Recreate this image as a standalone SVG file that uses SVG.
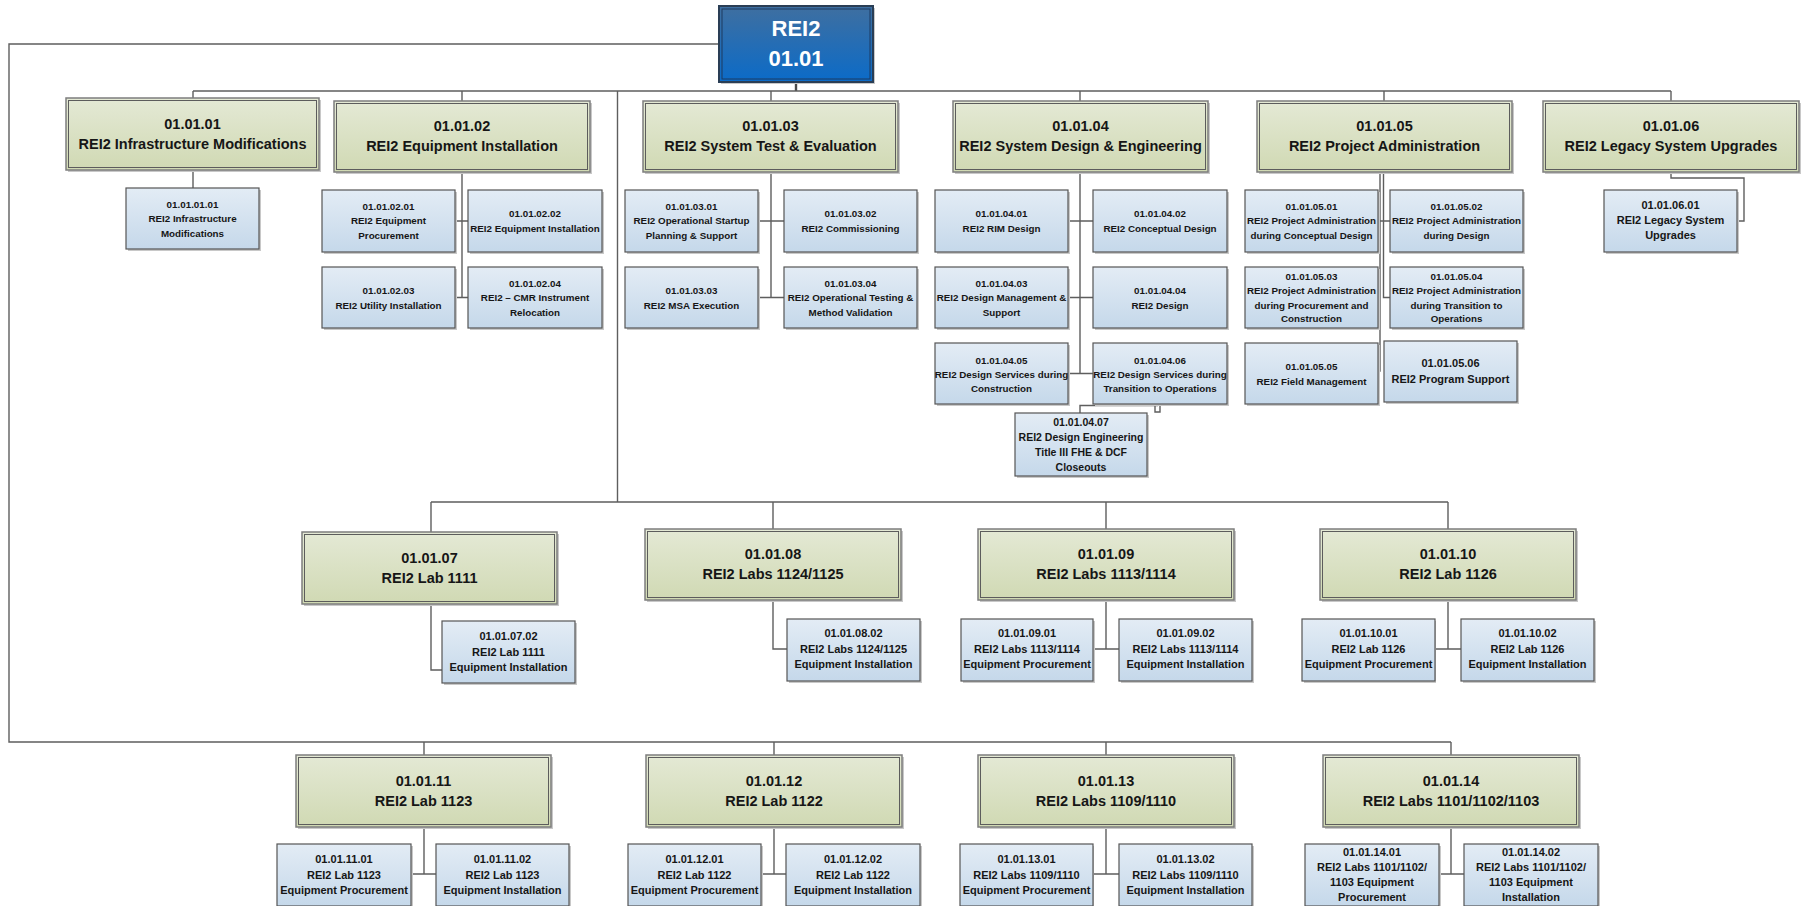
<svg xmlns="http://www.w3.org/2000/svg" width="1802" height="906" viewBox="0 0 1802 906">
<defs>
  <linearGradient id="gRoot" x1="0" y1="0" x2="0" y2="1">
    <stop offset="0" stop-color="#3f6fa0"/>
    <stop offset="1" stop-color="#0b6bc8"/>
  </linearGradient>
  <linearGradient id="gL1" x1="0" y1="0" x2="0" y2="1">
    <stop offset="0" stop-color="#e4e9d5"/>
    <stop offset="1" stop-color="#d0d9b3"/>
  </linearGradient>
  <linearGradient id="gL2" x1="0" y1="0" x2="0" y2="1">
    <stop offset="0" stop-color="#e3ecf5"/>
    <stop offset="1" stop-color="#c5d8ea"/>
  </linearGradient>
</defs>
<style>
  text { font-family: "Liberation Sans", Arial, sans-serif; font-weight: bold; text-anchor: middle; fill: #161616; }
  .sh { fill: #c8c8c8; }
  .root { fill: url(#gRoot); stroke: #2a3e55; stroke-width: 2; }
  .rooti { fill: none; stroke: #1c3a60; stroke-width: 1; }
  .troot { font-size: 22px; fill: #ffffff; }
  .l1 { fill: url(#gL1); stroke: #7d7d7d; stroke-width: 1.5; }
  .l1i { fill: none; stroke: #5c5c5c; stroke-width: 1; }
  .t1 { font-size: 14.5px; }
  .l2 { fill: url(#gL2); stroke: #555555; stroke-width: 1.2; }
  .t2 { font-size: 9.8px; }
  .t3 { font-size: 11px; }
  .t4 { font-size: 10.5px; }
  .wire { fill: none; stroke: #5e5e5e; stroke-width: 1.4; }
  .wire2 { fill: none; stroke: #4a4a4a; stroke-width: 2.4; }
</style>
<rect width="1802" height="906" fill="#ffffff"/>

<!-- connectors -->
<g id="connectors">
  <path class="wire" d="M719 44 H9 V742 H1451"/>
  <path class="wire2" d="M796 82 V91"/>
  <path class="wire" d="M193 91 H1671"/>
  <path class="wire" d="M193 91 V98 M462 91 V101 M771 91 V101 M1080 91 V101 M1384 91 V101 M1671 91 V101"/>
  <path class="wire" d="M617.5 91 V502"/>
  <path class="wire" d="M431 502 H1448 M431 502 V532 M773 502 V529 M1106 502 V529 M1448 502 V529"/>
  <path class="wire" d="M424 742 V755 M774 742 V755 M1106 742 V755 M1451 742 V755"/>
  <!-- level 1 row 1 children -->
  <path class="wire" d="M193 170 V188"/>
  <path class="wire" d="M462 172 V297.5 M455 221 H468 M455 297.5 H468"/>
  <path class="wire" d="M771 172 V297.5 M758 221 H784 M758 297.5 H784"/>
  <path class="wire" d="M1080 172 V373.5 M1068 221 H1093 M1068 297.5 H1093 M1068 373.5 H1093"/>
  <path class="wire" d="M1080 413 V405.5 H1158 M1155 404 V412 H1160 V404"/>
  <path class="wire" d="M1380 172 V371 H1378 M1383.5 172 V297.5 H1390 M1378 221 H1390"/>
  <path class="wire" d="M1671 172 V178 H1744 V221 H1737"/>
  <!-- level 1 row 2 children -->
  <path class="wire" d="M431 604 V670 H442"/>
  <path class="wire" d="M773 600 V649 H787"/>
  <path class="wire" d="M1106 600 V649 M1093 649 H1119"/>
  <path class="wire" d="M1448 600 V649 M1435 649 H1461"/>
  <!-- level 1 row 3 children -->
  <path class="wire" d="M424 827 V874 M411 874 H436"/>
  <path class="wire" d="M774 827 V874 M761 874 H786"/>
  <path class="wire" d="M1106 827 V874 M1093 874 H1119"/>
  <path class="wire" d="M1451 827 V874 M1439 874 H1464"/>
</g>

<!-- root -->
<g id="n0101">
  <rect class="sh" x="721" y="8" width="154" height="76"/>
  <rect class="root" x="719" y="6" width="154" height="76"/>
  <rect class="rooti" x="722" y="9" width="148" height="70"/>
  <text class="troot" x="796" y="36">REI2</text>
  <text class="troot" x="796" y="66">01.01</text>
</g>

<!-- level 1, first row -->
<g id="n010101">
  <rect class="sh" x="68" y="100" width="253" height="72"/>
  <rect class="l1" x="66" y="98" width="253" height="72"/>
  <rect class="l1i" x="68.5" y="100.5" width="248" height="67"/>
  <text class="t1"><tspan x="192.5" y="128.5">01.01.01</tspan><tspan x="192.5" y="148.5">REI2 Infrastructure Modifications</tspan></text>
</g>
<g id="n010102">
  <rect class="sh" x="336" y="103" width="256" height="71"/>
  <rect class="l1" x="334" y="101" width="256" height="71"/>
  <rect class="l1i" x="336.5" y="103.5" width="251" height="66"/>
  <text class="t1"><tspan x="462" y="131">01.01.02</tspan><tspan x="462" y="151">REI2 Equipment Installation</tspan></text>
</g>
<g id="n010103">
  <rect class="sh" x="645" y="103" width="255" height="71"/>
  <rect class="l1" x="643" y="101" width="255" height="71"/>
  <rect class="l1i" x="645.5" y="103.5" width="250" height="66"/>
  <text class="t1"><tspan x="770.5" y="131">01.01.03</tspan><tspan x="770.5" y="151">REI2 System Test &amp; Evaluation</tspan></text>
</g>
<g id="n010104">
  <rect class="sh" x="955" y="103" width="255" height="71"/>
  <rect class="l1" x="953" y="101" width="255" height="71"/>
  <rect class="l1i" x="955.5" y="103.5" width="250" height="66"/>
  <text class="t1"><tspan x="1080.5" y="131">01.01.04</tspan><tspan x="1080.5" y="151">REI2 System Design &amp; Engineering</tspan></text>
</g>
<g id="n010105">
  <rect class="sh" x="1259" y="103" width="255" height="71"/>
  <rect class="l1" x="1257" y="101" width="255" height="71"/>
  <rect class="l1i" x="1259.5" y="103.5" width="250" height="66"/>
  <text class="t1"><tspan x="1384.5" y="131">01.01.05</tspan><tspan x="1384.5" y="151">REI2 Project Administration</tspan></text>
</g>
<g id="n010106">
  <rect class="sh" x="1545" y="103" width="256" height="71"/>
  <rect class="l1" x="1543" y="101" width="256" height="71"/>
  <rect class="l1i" x="1545.5" y="103.5" width="251" height="66"/>
  <text class="t1"><tspan x="1671" y="131">01.01.06</tspan><tspan x="1671" y="151">REI2 Legacy System Upgrades</tspan></text>
</g>

<!-- children of first row -->
<g id="n01010101">
  <rect class="sh" x="128" y="190" width="133" height="61"/>
  <rect class="l2" x="126" y="188" width="133" height="61"/>
  <text class="t2"><tspan x="192.5" y="207.5">01.01.01.01</tspan><tspan x="192.5" y="222">REI2 Infrastructure</tspan><tspan x="192.5" y="236.5">Modifications</tspan></text>
</g>
<g id="n01010201">
  <rect class="sh" x="324" y="192" width="133" height="62"/>
  <rect class="l2" x="322" y="190" width="133" height="62"/>
  <text class="t2"><tspan x="388.5" y="209.5">01.01.02.01</tspan><tspan x="388.5" y="224">REI2 Equipment</tspan><tspan x="388.5" y="238.5">Procurement</tspan></text>
</g>
<g id="n01010202">
  <rect class="sh" x="470" y="192" width="134" height="62"/>
  <rect class="l2" x="468" y="190" width="134" height="62"/>
  <text class="t2"><tspan x="535" y="216.5">01.01.02.02</tspan><tspan x="535" y="231.5">REI2 Equipment Installation</tspan></text>
</g>
<g id="n01010203">
  <rect class="sh" x="324" y="269" width="133" height="61"/>
  <rect class="l2" x="322" y="267" width="133" height="61"/>
  <text class="t2"><tspan x="388.5" y="293.5">01.01.02.03</tspan><tspan x="388.5" y="308.5">REI2 Utility Installation</tspan></text>
</g>
<g id="n01010204">
  <rect class="sh" x="470" y="269" width="134" height="61"/>
  <rect class="l2" x="468" y="267" width="134" height="61"/>
  <text class="t2"><tspan x="535" y="286.5">01.01.02.04</tspan><tspan x="535" y="301">REI2 – CMR Instrument</tspan><tspan x="535" y="315.5">Relocation</tspan></text>
</g>
<g id="n01010301">
  <rect class="sh" x="627" y="192" width="133" height="62"/>
  <rect class="l2" x="625" y="190" width="133" height="62"/>
  <text class="t2"><tspan x="691.5" y="209.5">01.01.03.01</tspan><tspan x="691.5" y="224">REI2 Operational Startup</tspan><tspan x="691.5" y="238.5">Planning &amp; Support</tspan></text>
</g>
<g id="n01010302">
  <rect class="sh" x="786" y="192" width="133" height="62"/>
  <rect class="l2" x="784" y="190" width="133" height="62"/>
  <text class="t2"><tspan x="850.5" y="216.5">01.01.03.02</tspan><tspan x="850.5" y="231.5">REI2 Commissioning</tspan></text>
</g>
<g id="n01010303">
  <rect class="sh" x="627" y="269" width="133" height="61"/>
  <rect class="l2" x="625" y="267" width="133" height="61"/>
  <text class="t2"><tspan x="691.5" y="293.5">01.01.03.03</tspan><tspan x="691.5" y="308.5">REI2 MSA Execution</tspan></text>
</g>
<g id="n01010304">
  <rect class="sh" x="786" y="269" width="133" height="61"/>
  <rect class="l2" x="784" y="267" width="133" height="61"/>
  <text class="t2"><tspan x="850.5" y="286.5">01.01.03.04</tspan><tspan x="850.5" y="301">REI2 Operational Testing &amp;</tspan><tspan x="850.5" y="315.5">Method Validation</tspan></text>
</g>
<g id="n01010401">
  <rect class="sh" x="937" y="192" width="133" height="62"/>
  <rect class="l2" x="935" y="190" width="133" height="62"/>
  <text class="t2"><tspan x="1001.5" y="216.5">01.01.04.01</tspan><tspan x="1001.5" y="231.5">REI2 RIM Design</tspan></text>
</g>
<g id="n01010402">
  <rect class="sh" x="1095" y="192" width="134" height="62"/>
  <rect class="l2" x="1093" y="190" width="134" height="62"/>
  <text class="t2"><tspan x="1160" y="216.5">01.01.04.02</tspan><tspan x="1160" y="231.5">REI2 Conceptual Design</tspan></text>
</g>
<g id="n01010403">
  <rect class="sh" x="937" y="269" width="133" height="61"/>
  <rect class="l2" x="935" y="267" width="133" height="61"/>
  <text class="t2"><tspan x="1001.5" y="286.5">01.01.04.03</tspan><tspan x="1001.5" y="301">REI2 Design Management &amp;</tspan><tspan x="1001.5" y="315.5">Support</tspan></text>
</g>
<g id="n01010404">
  <rect class="sh" x="1095" y="269" width="134" height="61"/>
  <rect class="l2" x="1093" y="267" width="134" height="61"/>
  <text class="t2"><tspan x="1160" y="293.5">01.01.04.04</tspan><tspan x="1160" y="308.5">REI2 Design</tspan></text>
</g>
<g id="n01010405">
  <rect class="sh" x="937" y="345" width="133" height="61"/>
  <rect class="l2" x="935" y="343" width="133" height="61"/>
  <text class="t2"><tspan x="1001.5" y="363.5">01.01.04.05</tspan><tspan x="1001.5" y="378">REI2 Design Services during</tspan><tspan x="1001.5" y="392">Construction</tspan></text>
</g>
<g id="n01010406">
  <rect class="sh" x="1095" y="345" width="134" height="61"/>
  <rect class="l2" x="1093" y="343" width="134" height="61"/>
  <text class="t2"><tspan x="1160" y="363.5">01.01.04.06</tspan><tspan x="1160" y="378">REI2 Design Services during</tspan><tspan x="1160" y="392">Transition to Operations</tspan></text>
</g>
<g id="n01010407">
  <rect class="sh" x="1017" y="415" width="132" height="63"/>
  <rect class="l2" x="1015" y="413" width="132" height="63"/>
  <text class="t4"><tspan x="1081" y="426">01.01.04.07</tspan><tspan x="1081" y="441">REI2 Design Engineering</tspan><tspan x="1081" y="456">Title III FHE &amp; DCF</tspan><tspan x="1081" y="471">Closeouts</tspan></text>
</g>
<g id="n01010501">
  <rect class="sh" x="1247" y="192" width="133" height="62"/>
  <rect class="l2" x="1245" y="190" width="133" height="62"/>
  <text class="t2"><tspan x="1311.5" y="209.5">01.01.05.01</tspan><tspan x="1311.5" y="224">REI2 Project Administration</tspan><tspan x="1311.5" y="238.5">during Conceptual Design</tspan></text>
</g>
<g id="n01010502">
  <rect class="sh" x="1392" y="192" width="133" height="62"/>
  <rect class="l2" x="1390" y="190" width="133" height="62"/>
  <text class="t2"><tspan x="1456.5" y="209.5">01.01.05.02</tspan><tspan x="1456.5" y="224">REI2 Project Administration</tspan><tspan x="1456.5" y="238.5">during Design</tspan></text>
</g>
<g id="n01010503">
  <rect class="sh" x="1247" y="269" width="133" height="61"/>
  <rect class="l2" x="1245" y="267" width="133" height="61"/>
  <text class="t2"><tspan x="1311.5" y="279.5">01.01.05.03</tspan><tspan x="1311.5" y="294">REI2 Project Administration</tspan><tspan x="1311.5" y="308.5">during Procurement and</tspan><tspan x="1311.5" y="322">Construction</tspan></text>
</g>
<g id="n01010504">
  <rect class="sh" x="1392" y="269" width="133" height="61"/>
  <rect class="l2" x="1390" y="267" width="133" height="61"/>
  <text class="t2"><tspan x="1456.5" y="279.5">01.01.05.04</tspan><tspan x="1456.5" y="294">REI2 Project Administration</tspan><tspan x="1456.5" y="308.5">during Transition to</tspan><tspan x="1456.5" y="322">Operations</tspan></text>
</g>
<g id="n01010505">
  <rect class="sh" x="1247" y="345" width="133" height="61"/>
  <rect class="l2" x="1245" y="343" width="133" height="61"/>
  <text class="t2"><tspan x="1311.5" y="370">01.01.05.05</tspan><tspan x="1311.5" y="385">REI2 Field Management</tspan></text>
</g>
<g id="n01010506">
  <rect class="sh" x="1386" y="343" width="133" height="61"/>
  <rect class="l2" x="1384" y="341" width="133" height="61"/>
  <text class="t3"><tspan x="1450.5" y="367">01.01.05.06</tspan><tspan x="1450.5" y="383">REI2 Program Support</tspan></text>
</g>
<g id="n01010601">
  <rect class="sh" x="1606" y="192" width="133" height="62"/>
  <rect class="l2" x="1604" y="190" width="133" height="62"/>
  <text class="t3"><tspan x="1670.5" y="209">01.01.06.01</tspan><tspan x="1670.5" y="224">REI2 Legacy System</tspan><tspan x="1670.5" y="239">Upgrades</tspan></text>
</g>

<!-- level 1, second row -->
<g id="n010107">
  <rect class="sh" x="304" y="534" width="255" height="72"/>
  <rect class="l1" x="302" y="532" width="255" height="72"/>
  <rect class="l1i" x="304.5" y="534.5" width="250" height="67"/>
  <text class="t1"><tspan x="429.5" y="562.5">01.01.07</tspan><tspan x="429.5" y="582.5">REI2 Lab 1111</tspan></text>
</g>
<g id="n010108">
  <rect class="sh" x="647" y="531" width="256" height="71"/>
  <rect class="l1" x="645" y="529" width="256" height="71"/>
  <rect class="l1i" x="647.5" y="531.5" width="251" height="66"/>
  <text class="t1"><tspan x="773" y="559">01.01.08</tspan><tspan x="773" y="579">REI2 Labs 1124/1125</tspan></text>
</g>
<g id="n010109">
  <rect class="sh" x="980" y="531" width="256" height="71"/>
  <rect class="l1" x="978" y="529" width="256" height="71"/>
  <rect class="l1i" x="980.5" y="531.5" width="251" height="66"/>
  <text class="t1"><tspan x="1106" y="559">01.01.09</tspan><tspan x="1106" y="579">REI2 Labs 1113/1114</tspan></text>
</g>
<g id="n010110">
  <rect class="sh" x="1322" y="531" width="256" height="71"/>
  <rect class="l1" x="1320" y="529" width="256" height="71"/>
  <rect class="l1i" x="1322.5" y="531.5" width="251" height="66"/>
  <text class="t1"><tspan x="1448" y="559">01.01.10</tspan><tspan x="1448" y="579">REI2 Lab 1126</tspan></text>
</g>

<!-- children of second row -->
<g id="n01010702">
  <rect class="sh" x="444" y="623" width="133" height="62"/>
  <rect class="l2" x="442" y="621" width="133" height="62"/>
  <text class="t3"><tspan x="508.5" y="640">01.01.07.02</tspan><tspan x="508.5" y="655.5">REI2 Lab 1111</tspan><tspan x="508.5" y="671">Equipment Installation</tspan></text>
</g>
<g id="n01010802">
  <rect class="sh" x="789" y="621" width="133" height="62"/>
  <rect class="l2" x="787" y="619" width="133" height="62"/>
  <text class="t3"><tspan x="853.5" y="637">01.01.08.02</tspan><tspan x="853.5" y="652.5">REI2 Labs 1124/1125</tspan><tspan x="853.5" y="668">Equipment Installation</tspan></text>
</g>
<g id="n01010901">
  <rect class="sh" x="963" y="621" width="132" height="62"/>
  <rect class="l2" x="961" y="619" width="132" height="62"/>
  <text class="t3"><tspan x="1027" y="637">01.01.09.01</tspan><tspan x="1027" y="652.5">REI2 Labs 1113/1114</tspan><tspan x="1027" y="668">Equipment Procurement</tspan></text>
</g>
<g id="n01010902">
  <rect class="sh" x="1121" y="621" width="133" height="62"/>
  <rect class="l2" x="1119" y="619" width="133" height="62"/>
  <text class="t3"><tspan x="1185.5" y="637">01.01.09.02</tspan><tspan x="1185.5" y="652.5">REI2 Labs 1113/1114</tspan><tspan x="1185.5" y="668">Equipment Installation</tspan></text>
</g>
<g id="n01011001">
  <rect class="sh" x="1304" y="621" width="132" height="62"/>
  <rect class="l2" x="1302" y="619" width="133" height="62"/>
  <text class="t3"><tspan x="1368.5" y="637">01.01.10.01</tspan><tspan x="1368.5" y="652.5">REI2 Lab 1126</tspan><tspan x="1368.5" y="668">Equipment Procurement</tspan></text>
</g>
<g id="n01011002">
  <rect class="sh" x="1463" y="621" width="133" height="62"/>
  <rect class="l2" x="1461" y="619" width="133" height="62"/>
  <text class="t3"><tspan x="1527.5" y="637">01.01.10.02</tspan><tspan x="1527.5" y="652.5">REI2 Lab 1126</tspan><tspan x="1527.5" y="668">Equipment Installation</tspan></text>
</g>

<!-- level 1, third row -->
<g id="n010111">
  <rect class="sh" x="298" y="757" width="255" height="72"/>
  <rect class="l1" x="296" y="755" width="255" height="72"/>
  <rect class="l1i" x="298.5" y="757.5" width="250" height="67"/>
  <text class="t1"><tspan x="423.5" y="785.5">01.01.11</tspan><tspan x="423.5" y="805.5">REI2 Lab 1123</tspan></text>
</g>
<g id="n010112">
  <rect class="sh" x="648" y="757" width="256" height="72"/>
  <rect class="l1" x="646" y="755" width="256" height="72"/>
  <rect class="l1i" x="648.5" y="757.5" width="251" height="67"/>
  <text class="t1"><tspan x="774" y="785.5">01.01.12</tspan><tspan x="774" y="805.5">REI2 Lab 1122</tspan></text>
</g>
<g id="n010113">
  <rect class="sh" x="980" y="757" width="256" height="72"/>
  <rect class="l1" x="978" y="755" width="256" height="72"/>
  <rect class="l1i" x="980.5" y="757.5" width="251" height="67"/>
  <text class="t1"><tspan x="1106" y="785.5">01.01.13</tspan><tspan x="1106" y="805.5">REI2 Labs 1109/1110</tspan></text>
</g>
<g id="n010114">
  <rect class="sh" x="1325" y="757" width="256" height="72"/>
  <rect class="l1" x="1323" y="755" width="256" height="72"/>
  <rect class="l1i" x="1325.5" y="757.5" width="251" height="67"/>
  <text class="t1"><tspan x="1451" y="785.5">01.01.14</tspan><tspan x="1451" y="805.5">REI2 Labs 1101/1102/1103</tspan></text>
</g>

<!-- children of third row -->
<g id="n01011101">
  <rect class="sh" x="279" y="846" width="134" height="62"/>
  <rect class="l2" x="277" y="844" width="134" height="62"/>
  <text class="t3"><tspan x="344" y="863">01.01.11.01</tspan><tspan x="344" y="878.5">REI2 Lab 1123</tspan><tspan x="344" y="894">Equipment Procurement</tspan></text>
</g>
<g id="n01011102">
  <rect class="sh" x="438" y="846" width="133" height="62"/>
  <rect class="l2" x="436" y="844" width="133" height="62"/>
  <text class="t3"><tspan x="502.5" y="863">01.01.11.02</tspan><tspan x="502.5" y="878.5">REI2 Lab 1123</tspan><tspan x="502.5" y="894">Equipment Installation</tspan></text>
</g>
<g id="n01011201">
  <rect class="sh" x="630" y="846" width="133" height="62"/>
  <rect class="l2" x="628" y="844" width="133" height="62"/>
  <text class="t3"><tspan x="694.5" y="863">01.01.12.01</tspan><tspan x="694.5" y="878.5">REI2 Lab 1122</tspan><tspan x="694.5" y="894">Equipment Procurement</tspan></text>
</g>
<g id="n01011202">
  <rect class="sh" x="788" y="846" width="134" height="62"/>
  <rect class="l2" x="786" y="844" width="134" height="62"/>
  <text class="t3"><tspan x="853" y="863">01.01.12.02</tspan><tspan x="853" y="878.5">REI2 Lab 1122</tspan><tspan x="853" y="894">Equipment Installation</tspan></text>
</g>
<g id="n01011301">
  <rect class="sh" x="962" y="846" width="132" height="62"/>
  <rect class="l2" x="960" y="844" width="133" height="62"/>
  <text class="t3"><tspan x="1026.5" y="863">01.01.13.01</tspan><tspan x="1026.5" y="878.5">REI2 Labs 1109/1110</tspan><tspan x="1026.5" y="894">Equipment Procurement</tspan></text>
</g>
<g id="n01011302">
  <rect class="sh" x="1121" y="846" width="133" height="62"/>
  <rect class="l2" x="1119" y="844" width="133" height="62"/>
  <text class="t3"><tspan x="1185.5" y="863">01.01.13.02</tspan><tspan x="1185.5" y="878.5">REI2 Labs 1109/1110</tspan><tspan x="1185.5" y="894">Equipment Installation</tspan></text>
</g>
<g id="n01011401">
  <rect class="sh" x="1307" y="846" width="134" height="62"/>
  <rect class="l2" x="1305" y="844" width="134" height="62"/>
  <text class="t3"><tspan x="1372" y="856">01.01.14.01</tspan><tspan x="1372" y="871">REI2 Labs 1101/1102/</tspan><tspan x="1372" y="886">1103 Equipment</tspan><tspan x="1372" y="901">Procurement</tspan></text>
</g>
<g id="n01011402">
  <rect class="sh" x="1466" y="846" width="134" height="62"/>
  <rect class="l2" x="1464" y="844" width="134" height="62"/>
  <text class="t3"><tspan x="1531" y="856">01.01.14.02</tspan><tspan x="1531" y="871">REI2 Labs 1101/1102/</tspan><tspan x="1531" y="886">1103 Equipment</tspan><tspan x="1531" y="901">Installation</tspan></text>
</g>
</svg>
